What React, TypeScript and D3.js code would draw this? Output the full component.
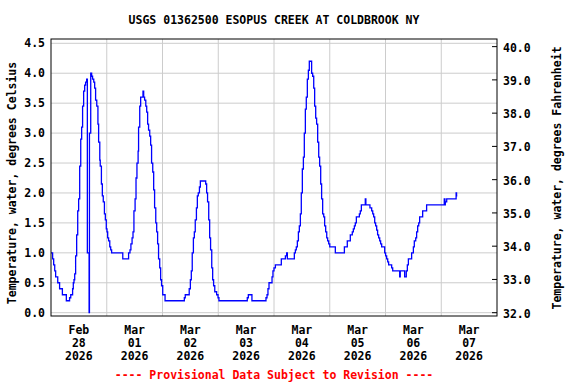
import * as d3 from "d3";
import React, { useMemo } from "react";

// Observation start (UTC), series as hours since start and deg C
const startIso = "2026-02-28T00:00:00Z";
const endIso = "2026-03-08T00:00:00Z";

const obsHours = [
  0, 0.7, 1.15, 1.6, 2.0, 2.9, 3.7, 4.9, 6.6, 8.0, 8.5, 9.3, 9.6, 9.9, 10.2, 10.6,
  11.05, 11.5, 11.9, 12.35, 12.8, 13.2, 13.6, 14.05, 14.5, 14.9, 15.35, 15.65, 16.4,
  16.55, 17.1, 17.5, 17.9, 18.4, 18.8, 19.2, 19.7, 20.2, 20.5, 21.0, 21.2, 21.7, 22.1,
  22.5, 23.0, 23.4, 23.8, 24.1, 24.4, 24.8, 25.3, 25.7, 26.1, 30.9, 33.4, 34.0, 34.4,
  34.9, 35.3, 35.7, 36.2, 36.6, 37.0, 37.5, 37.7, 38.2, 38.6, 39.6, 39.9, 40.3, 40.8,
  41.2, 41.6, 42.0, 42.5, 42.9, 43.3, 43.8, 44.2, 44.6, 45.1, 45.5, 45.9, 46.3, 46.8,
  47.2, 47.6, 48.1, 49.1, 57.4, 57.8, 59.5, 60.0, 60.4, 60.8, 61.3, 61.7, 62.1, 62.6,
  63.0, 63.4, 63.9, 64.3, 66.6, 67.0, 67.4, 67.9, 68.3, 68.7, 69.2, 69.6, 70.0, 70.5,
  71.3, 71.9, 72.3, 84.5, 84.95, 86.5, 92.55, 93.0, 93.4, 93.85, 95.15, 95.55, 96.0,
  96.6, 99.15, 100.9, 101.45, 101.75, 104.75, 105.2, 105.6, 106.05, 106.5, 106.9,
  107.35, 107.75, 108.2, 108.65, 109.05, 109.5, 109.9, 110.35, 110.8, 111.2, 112.2,
  112.65, 113.1, 113.5, 113.95, 114.35, 114.8, 115.25, 115.65, 116.1, 116.5, 116.95,
  117.4, 117.8, 118.25, 118.7, 119.1, 119.55, 120.0, 122.4, 126.3, 127.55, 128.85,
  129.7, 130.15, 130.6, 131.0, 131.45, 132.75, 133.15, 133.6, 135.3, 135.55, 137.3,
  138.05, 138.5, 138.9, 139.35, 139.75, 140.2, 140.6, 141.05, 141.5, 141.9, 142.35,
  143.65, 144.05, 144.5, 144.95, 145.35, 146.65, 147.1, 150.1, 150.35, 152.25, 152.95,
  153.4, 153.85, 155.25, 156.0, 156.4, 157.0, 157.4, 157.85, 158.3, 158.7, 160.0,
  161.7, 169.3, 169.6, 169.75, 170.35, 174.4, 174.6, 174.9,
];

const obsTempC = [
  1.0, 0.9, 0.8, 0.7, 0.6, 0.5, 0.4, 0.3, 0.2, 0.25, 0.3, 0.4, 0.5, 0.55, 0.65, 0.95,
  1.3, 1.7, 1.9, 2.45, 2.9, 3.1, 3.45, 3.7, 3.8, 3.85, 3.9, 1.0, 0.0,
  3.0, 4.0, 3.95, 3.9, 3.85, 3.75, 3.55, 3.45, 3.15, 2.85, 2.55, 2.45, 2.15, 1.95,
  1.85, 1.65, 1.55, 1.4, 1.35, 1.25, 1.2, 1.1, 1.05, 1.0, 0.9, 1.0, 1.05, 1.15,
  1.25, 1.35, 1.7, 1.9, 2.25, 2.5, 2.7, 3.1, 3.45, 3.6, 3.7, 3.6, 3.55, 3.45,
  3.35, 3.15, 3.05, 2.95, 2.8, 2.5, 2.35, 2.05, 1.75, 1.5, 1.35, 1.15, 0.9, 0.75,
  0.55, 0.45, 0.3, 0.2, 0.25, 0.3, 0.4, 0.55, 0.7, 1.0, 1.25, 1.35, 1.55, 1.75,
  1.95, 2.0, 2.1, 2.2, 2.15, 2.0, 1.85, 1.55, 1.25, 1.05, 0.75, 0.55, 0.45, 0.35,
  0.3, 0.25, 0.2, 0.25, 0.3, 0.2, 0.25, 0.3, 0.4, 0.5, 0.6, 0.7, 0.75,
  0.8, 0.9, 0.95, 1.0, 0.9, 1.0, 1.05, 1.1, 1.2, 1.35, 1.45,
  1.65, 2.0, 2.4, 2.6, 3.0, 3.4, 3.6, 3.9, 4.05, 4.2, 4.0,
  3.95, 3.75, 3.45, 3.25, 3.15, 2.85, 2.6, 2.45, 2.15, 1.9, 1.65,
  1.6, 1.45, 1.35, 1.25, 1.2, 1.15, 1.1, 1.0, 1.1, 1.2, 1.3,
  1.35, 1.4, 1.45, 1.5, 1.6, 1.65, 1.7, 1.8, 1.9, 1.8, 1.75,
  1.7, 1.65, 1.6, 1.5, 1.45, 1.38, 1.3, 1.25, 1.2, 1.15, 1.1,
  1.0, 0.95, 0.9, 0.85, 0.8, 0.75, 0.7, 0.6, 0.7, 0.6, 0.7,
  0.8, 0.9, 1.0, 1.1, 1.2, 1.25, 1.35, 1.45, 1.5, 1.6, 1.7,
  1.8, 1.9, 1.8, 1.85, 1.9, 2.0, 1.95, 1.95,
];

const celsiusTicks = [0, 0.5, 1, 1.5, 2, 2.5, 3, 3.5, 4, 4.5];
const fahrenheitTicks = [32, 33, 34, 35, 36, 37, 38, 39, 40];

const title = "USGS 01362500 ESOPUS CREEK AT COLDBROOK NY";
const leftLabel = "Temperature, water, degrees Celsius";
const rightLabel = "Temperature, water, degrees Fahrenheit";
const footnote = "---- Provisional Data Subject to Revision ----";

const FONT = "'DejaVu Sans Mono', 'Liberation Mono', monospace";

export default function App(): React.ReactElement {
  const width = 576;
  const height = 384;
  const box = { bottom: 316, left: 51, right: 497, top: 39 };

  const start = useMemo(() => new Date(startIso), []);
  const series = useMemo(
    () =>
      obsHours.map((h, i) => ({
        t: d3.utcMinute.offset(start, Math.round(h * 60)),
        v: obsTempC[i],
      })),
    [start]
  );

  const x = d3
    .scaleUtc()
    .domain([start, new Date(endIso)])
    .range([box.left, box.right]);
  const y = d3.scaleLinear().domain([0, 4.5]).range([312.7, 43.3]);
  // Fahrenheit axis shares the Celsius scale
  const yF = (f: number) => y((f - 32) / 1.8);

  const days = d3.utcDay.range(start, new Date(endIso));
  const fmtMon = d3.utcFormat("%b");
  const fmtDay = d3.utcFormat("%d");
  const fmtYear = d3.utcFormat("%Y");

  const line = d3
    .line<{ t: Date; v: number }>()
    .x((d) => x(d.t))
    .y((d) => y(d.v))
    .curve(d3.curveStepAfter);

  const cx = (box.left + box.right) / 2;

  return (
    <svg
      height={height}
      width={width}
      style={{ background: "#fff", left: 0, position: "absolute", top: 0 }}
      fontFamily={FONT}
      fontWeight="bold"
      fontSize={11.5}
    >
      <text x={cx} y={24} textAnchor="middle" fill="#000">
        {title}
      </text>

      {/* horizontal grid (Celsius) */}
      {celsiusTicks.map((t) => (
        <g key={`yc-${t}`}>
          <line stroke="#cccccc" x1={box.left} x2={box.right} y1={y(t)} y2={y(t)} />
          <text x={45} y={y(t) + 4} textAnchor="end" fill="#000">
            {t.toFixed(1)}
          </text>
        </g>
      ))}

      {/* vertical grid at midnight */}
      {days.slice(1).map((d) => (
        <line
          key={`xg-${d.toISOString()}`}
          stroke="#cccccc"
          x1={x(d)}
          x2={x(d)}
          y1={box.top}
          y2={box.bottom}
        />
      ))}

      {/* day labels centred on noon */}
      {days.map((d) => {
        const mid = x(d3.utcHour.offset(d, 12));
        return (
          <text key={`xl-${d.toISOString()}`} textAnchor="middle" fill="#000">
            <tspan x={mid} y={334}>
              {fmtMon(d)}
            </tspan>
            <tspan x={mid} y={347}>
              {fmtDay(d)}
            </tspan>
            <tspan x={mid} y={360}>
              {fmtYear(d)}
            </tspan>
          </text>
        );
      })}

      <path d={line(series) ?? ""} fill="none" stroke="#0000ff" strokeWidth={1.3} />

      {/* Fahrenheit axis */}
      {fahrenheitTicks.map((t) => (
        <g key={`yf-${t}`}>
          <line stroke="#000" x1={box.right - 5} x2={box.right} y1={yF(t)} y2={yF(t)} />
          <text x={503} y={Math.min(yF(t) + 5, 320)} fill="#000">
            {t.toFixed(1)}
          </text>
        </g>
      ))}

      <rect
        fill="none"
        height={box.bottom - box.top}
        stroke="#000"
        strokeWidth={1}
        width={box.right - box.left}
        x={box.left}
        y={box.top}
      />

      <text
        textAnchor="middle"
        transform={`translate(16,183) rotate(-90)`}
        fill="#000"
      >
        {leftLabel}
      </text>
      <text
        textAnchor="middle"
        transform={`translate(561,178) rotate(-90)`}
        fill="#000"
      >
        {rightLabel}
      </text>

      <text x={cx} y={379} textAnchor="middle" fill="#ff0000">
        {footnote}
      </text>
    </svg>
  );
}
